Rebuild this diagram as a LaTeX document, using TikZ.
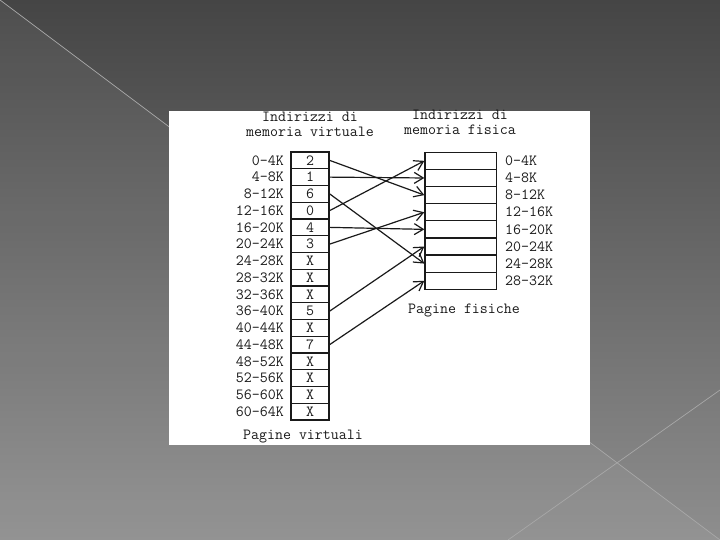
\documentclass[tikz,border=0pt]{standalone}
\usetikzlibrary{arrows.meta}
\definecolor{bgtop}{HTML}{454545}
\definecolor{bgbot}{HTML}{8E8E8E}
\definecolor{slideline}{HTML}{A8A8A8}
\definecolor{ink}{HTML}{1A1A1A}
\begin{document}
\begin{tikzpicture}[x=1pt,y=-1pt,
  mono/.style={font=\ttfamily\fontsize{15.5}{15}\selectfont, text=ink, inner sep=0pt},
  vcell/.style={mono, draw=ink, line width=1.3pt, minimum width=38pt, minimum height=16.75pt},
  pcell/.style={mono, draw=ink, line width=1.3pt, minimum width=71.5pt, minimum height=17.125pt},
  arr/.style={-{Straight Barb[length=9pt,width=11pt]}, line width=1.2pt, draw=ink},
  deco/.style={draw=slideline, line width=0.7pt}]
\useasboundingbox (0,0) rectangle (720,540);
% slide background
\shade[top color=bgtop, bottom color=bgbot] (0,0) rectangle (720,540);
\fill[white, opacity=0.05] (0,0) -- (720,540) -- (0,540) -- cycle;
\draw[deco] (0,0) -- (720,540);
\draw[deco] (720,390) -- (508,540);
% white panel
\fill[white] (169,111) rectangle (590,445);
% titles
\node[mono, align=center] (t1) at (310,124) {Indirizzi di\\memoria virtuale};
\node[mono, align=center] (t2) at (460,122.5) {Indirizzi di\\memoria fisica};
% virtual pages
\foreach \v [count=\i from 0] in {2,1,6,0,4,3,X,X,X,5,X,7,X,X,X,X}
  \node[vcell] (v\i) at (310,{152+16.75*(\i+0.5)}) {\v};
\foreach \l [count=\i from 0] in {0-4K,4-8K,8-12K,12-16K,16-20K,20-24K,24-28K,28-32K,32-36K,36-40K,40-44K,44-48K,48-52K,52-56K,56-60K,60-64K}
  \node[mono, anchor=east] (vl\i) at (284,{152+16.75*(\i+0.5)}) {\l};
% physical pages
\foreach \i in {0,...,7}
  \node[pcell] (p\i) at (460.75,{152.3+17.125*(\i+0.5)}) {};
\foreach \l [count=\i from 0] in {0-4K,4-8K,8-12K,12-16K,16-20K,20-24K,24-28K,28-32K}
  \node[mono, anchor=west] (pl\i) at (505,{152.3+17.125*(\i+0.5)}) {\l};
\node[mono] (t3) at (464,310) {Pagine fisiche};
\node[mono] (t4) at (303,437) {Pagine virtuali};
% mappings
\draw[arr] (v0.east) -- (p2.west);
\draw[arr] (v1.east) -- (p1.west);
\draw[arr] (v2.east) -- (p6.west);
\draw[arr] (v3.east) -- (p0.west);
\draw[arr] (v4.east) -- (p4.west);
\draw[arr] (v5.east) -- (p3.west);
\draw[arr] (v9.east) -- (p5.west);
\draw[arr] (v11.east) -- (p7.west);
\end{tikzpicture}
\end{document}
